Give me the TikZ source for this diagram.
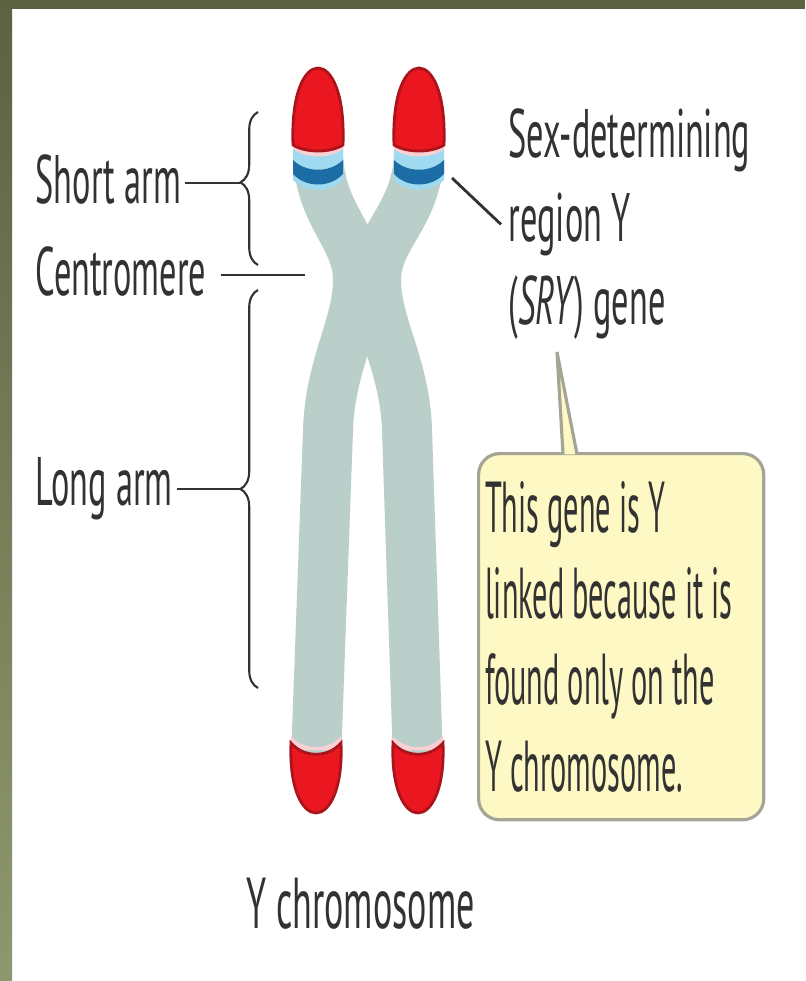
\documentclass[tikz,border=0pt]{standalone}
\usepackage{fontspec}
\setmainfont{PT Sans}[FakeStretch=0.5]
\newfontfamily\notefont{PT Sans}[FakeStretch=0.42]
\usetikzlibrary{decorations.pathreplacing}
\definecolor{FrameGreen}{RGB}{92,98,66}
\definecolor{FrameLight}{RGB}{142,152,110}
\definecolor{ChromGray}{RGB}{186,207,201}
\definecolor{CapRed}{RGB}{234,22,32}
\definecolor{CapEdge}{RGB}{172,20,28}
\definecolor{BandBlue}{RGB}{28,108,166}
\definecolor{BandLight}{RGB}{160,218,240}
\definecolor{NoteFill}{RGB}{253,248,196}
\definecolor{NoteEdge}{RGB}{165,165,150}
\definecolor{TextGray}{RGB}{50,50,50}

\begin{document}
\begin{tikzpicture}[x=0.01cm, y=-0.01cm,
  label/.style={font=\fontsize{19.5}{23.8}\selectfont, text=TextGray, inner sep=0pt},
  leader/.style={TextGray, line width=0.8pt},
  curly/.style={decorate, decoration={brace, amplitude=5pt, aspect=#1}, TextGray, line width=0.6pt},
  curly/.default=0.5,
  strand/.style={ChromGray, line width=0.5cm, line cap=butt},
  note/.style={draw=NoteEdge, fill=NoteFill, line width=0.9pt, rounded corners=6pt,
    text width=2.72cm, inner xsep=0.065cm, minimum height=3.66cm, align=flush left,
    text=TextGray, font=\notefont\fontsize{20.5}{24.5}\selectfont}]

\useasboundingbox (0,0) rectangle (805,981);

% marco
\fill[white] (0,0) rectangle (805,981);
\fill[FrameGreen] (0,0) rectangle (805,9);
\shade[top color=FrameGreen, bottom color=FrameLight] (0,0) rectangle (12,981);

% --- cromátidas ---
\draw[strand] (318,150) .. controls (318,215) and (358,235) .. (358,280)
  .. controls (358,325) and (330,365) .. (328,430) -- (316,760);
\draw[strand] (419,150) .. controls (419,215) and (376,235) .. (376,280)
  .. controls (376,325) and (405,365) .. (407,430) -- (418,760);

% --- telómeros superiores y banda SRY ---
\foreach \cx in {318,419} {
  \fill[BandLight] (\cx-25,140) -- (\cx+25,140) -- (\cx+25,180)
    .. controls (\cx+12,193) and (\cx-12,193) .. (\cx-25,180) -- cycle;
  \fill[BandBlue] (\cx-25,160) .. controls (\cx-12,173) and (\cx+12,173) .. (\cx+25,160)
    -- (\cx+25,174) .. controls (\cx+12,188) and (\cx-12,188) .. (\cx-25,174) -- cycle;
  \fill[white!80!CapRed] (\cx-25,143) .. controls (\cx-12,153) and (\cx+12,153) .. (\cx+25,143)
    -- (\cx+25,149) .. controls (\cx+12,159) and (\cx-12,159) .. (\cx-25,149) -- cycle;
  \filldraw[fill=CapRed, draw=CapEdge, line width=0.8pt] (\cx-25,145)
    .. controls (\cx-27,92) and (\cx-13,68) .. (\cx,68)
    .. controls (\cx+13,68) and (\cx+27,92) .. (\cx+25,145)
    .. controls (\cx+12,153) and (\cx-12,153) .. cycle;
}

% --- telómeros inferiores ---
\foreach \cx in {316,418} {
  \fill[white!80!CapRed] (\cx-25,736) .. controls (\cx-12,751) and (\cx+12,751) .. (\cx+25,736)
    -- (\cx+25,750) -- (\cx-25,750) -- cycle;
  \filldraw[fill=CapRed, draw=CapEdge, line width=0.8pt] (\cx-25,743)
    .. controls (\cx-12,758) and (\cx+12,758) .. (\cx+25,743)
    .. controls (\cx+27,790) and (\cx+13,813) .. (\cx,813)
    .. controls (\cx-13,813) and (\cx-27,790) .. cycle;
}

% --- llaves ---
\draw[curly=0.54] (258,265) -- (258,112);
\draw[curly] (258,688) -- (258,290);
\coordinate (shorttip) at (240,183);
\coordinate (longtip) at (240,489);
\coordinate (cenpt) at (305,275);
\coordinate (band) at (452,178);
\coordinate (calltip) at (557,352);

% --- rótulos izquierda ---
\node[label, anchor=base west] (short) at (35,203) {Short arm};
\node[label, anchor=base west] (centro) at (35,295) {Centromere};
\node[label, anchor=base west] (long) at (35,505) {Long arm};
\draw[leader] ([xshift=1pt]short.east |- shorttip) -- (shorttip);
\draw[leader] ([xshift=4pt]centro.east |- cenpt) -- (cenpt);
\draw[leader] ([xshift=1pt]long.east |- longtip) -- (longtip);

% --- gen SRY ---
\node[label, anchor=north west, align=left] (sry) at (508,108)
  {Sex-determining\\region Y\\(\textit{SRY}) gene};
\draw[leader] (band) -- ([xshift=-2pt]sry.west);

% --- nota ---
\node[note, anchor=north west] (note) at (477,452)
  {This gene is Y\\linked because it is\\found only on the\\Y chromosome.};
\draw[NoteEdge, fill=NoteFill, line width=0.9pt]
  ([xshift=0.86cm, yshift=-0.7pt]note.north west) -- (calltip)
  -- ([xshift=1.0cm, yshift=-0.7pt]note.north west);

% --- título ---
\node[label, font=\fontsize{20.5}{24}\selectfont, anchor=base west] (ychrom) at (246,928) {Y chromosome};

\end{tikzpicture}
\end{document}
